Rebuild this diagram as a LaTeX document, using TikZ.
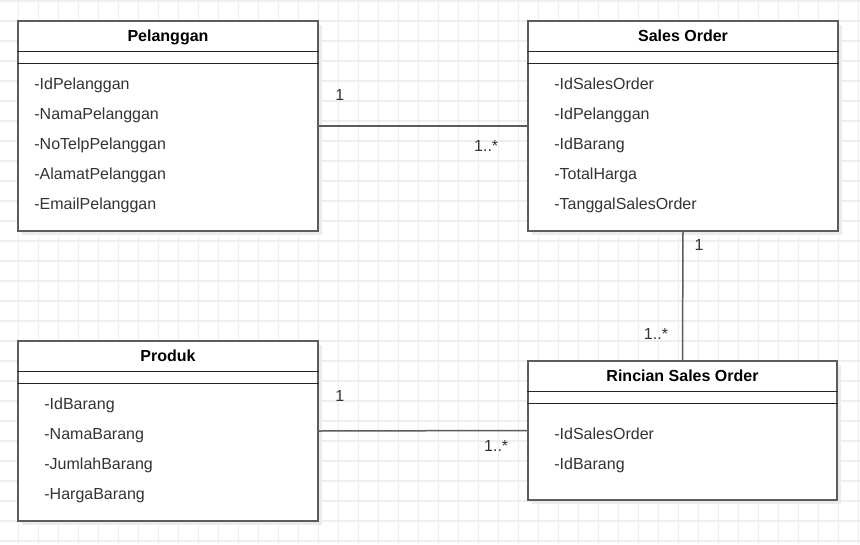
\documentclass[tikz,border=0pt]{standalone}
\usepackage{fontspec}
\setmainfont{Liberation Sans}
\usepackage{xcolor}
\usepackage{tikz}
\usetikzlibrary{calc, shadows}

\definecolor{txt}{HTML}{333333}
\definecolor{edge}{HTML}{5C5C5C}
\definecolor{gridc}{HTML}{EEEEEE}

\begin{document}
\begin{tikzpicture}[x=1pt, y=-1pt, line join=miter,
  every node/.style={font=\fontsize{16}{19}\selectfont, inner sep=0pt, text height=12pt, text depth=0pt},
  classbox/.style={draw=edge, line width=1.6pt, fill=white, rectangle, text height=, text depth=,
    drop shadow={shadow xshift=4pt, shadow yshift=-4pt, fill=black!8, opacity=1}},
  title/.style={font=\fontsize{16}{19}\selectfont\bfseries, text=black},
  attr/.style={anchor=west, text=txt},
  mult/.style={text=txt},
  sep/.style={draw=black!85, line width=1.1pt},
  assoc/.style={draw=edge, line width=1.5pt}]

\useasboundingbox (0,0) rectangle (860,544);
\fill[white] (0,0) rectangle (860,544);
\foreach \gx in {-1.7,18.3,...,860} \draw[gridc, line width=1.3pt] (\gx,0) -- (\gx,544);
\foreach \gy in {1,21,...,544} \draw[gridc, line width=1.3pt] (0,\gy) -- (860,\gy);

\node(pel)[classbox, minimum width=300pt, minimum height=210pt] at (168,126){};
\node(so)[classbox, minimum width=310pt, minimum height=210pt] at (683,126){};
\node(prod)[classbox, minimum width=300pt, minimum height=180pt] at (168,431){};
\node(rin)[classbox, minimum width=309pt, minimum height=139pt] at (682.5,430.5){};

% header
\node(pelT)[title] at ($(pel.north) + (0,15.5)$){Pelanggan};
\node(soT)[title] at ($(so.north) + (0,15.5)$){Sales Order};
\node(prodT)[title] at ($(prod.north) + (0,15.5)$){Produk};
\node(rinT)[title] at ($(rin.north) + (0,15.5)$){Rincian Sales Order};

\draw[sep] ($(pel.north west) + (0,31)$) -- ($(pel.north east) + (0,31)$);
\draw[sep] ($(pel.north west) + (0,43)$) -- ($(pel.north east) + (0,43)$);
\draw[sep] ($(so.north west) + (0,31)$) -- ($(so.north east) + (0,31)$);
\draw[sep] ($(so.north west) + (0,43)$) -- ($(so.north east) + (0,43)$);
\draw[sep] ($(prod.north west) + (0,31)$) -- ($(prod.north east) + (0,31)$);
\draw[sep] ($(prod.north west) + (0,43)$) -- ($(prod.north east) + (0,43)$);
\draw[sep] ($(rin.north west) + (0,31)$) -- ($(rin.north east) + (0,31)$);
\draw[sep] ($(rin.north west) + (0,43)$) -- ($(rin.north east) + (0,43)$);

% attributes
\node(pel1)[attr] at ($(pel.north west) + (17,63)$){-IdPelanggan};
\node(pel2)[attr] at ($(pel1.west) + (0,30)$){-NamaPelanggan};
\node(pel3)[attr] at ($(pel2.west) + (0,30)$){-NoTelpPelanggan};
\node(pel4)[attr] at ($(pel3.west) + (0,30)$){-AlamatPelanggan};
\node(pel5)[attr] at ($(pel4.west) + (0,30)$){-EmailPelanggan};

\node(so1)[attr] at ($(so.north west) + (27,63)$){-IdSalesOrder};
\node(so2)[attr] at ($(so1.west) + (0,30)$){-IdPelanggan};
\node(so3)[attr] at ($(so2.west) + (0,30)$){-IdBarang};
\node(so4)[attr] at ($(so3.west) + (0,30)$){-TotalHarga};
\node(so5)[attr] at ($(so4.west) + (0,30)$){-TanggalSalesOrder};

\node(prod1)[attr] at ($(prod.north west) + (27,63)$){-IdBarang};
\node(prod2)[attr] at ($(prod1.west) + (0,30)$){-NamaBarang};
\node(prod3)[attr] at ($(prod2.west) + (0,30)$){-JumlahBarang};
\node(prod4)[attr] at ($(prod3.west) + (0,30)$){-HargaBarang};

\node(rin1)[attr] at ($(rin.north west) + (27,73)$){-IdSalesOrder};
\node(rin2)[attr] at ($(rin1.west) + (0,30)$){-IdBarang};

% relations
\draw[assoc] (pel.east) -- (so.west);
\draw[assoc] (so.south) -- (rin.north);
\draw[assoc] (prod.east) -- (rin.west);

\node(m1)[mult] at ($(pel.east) + (21,-32)$){1};
\node(m2)[mult] at ($(so.west) + (-41,19)$){1..*};
\node(m3)[mult] at ($(so.south) + (16,13)$){1};
\node(m4)[mult] at ($(rin.north) + (-26.5,-27)$){1..*};
\node(m5)[mult] at ($(prod.east) + (21,-36)$){1};
\node(m6)[mult] at ($(rin.west) + (-31,14.5)$){1..*};
\end{tikzpicture}
\end{document}
